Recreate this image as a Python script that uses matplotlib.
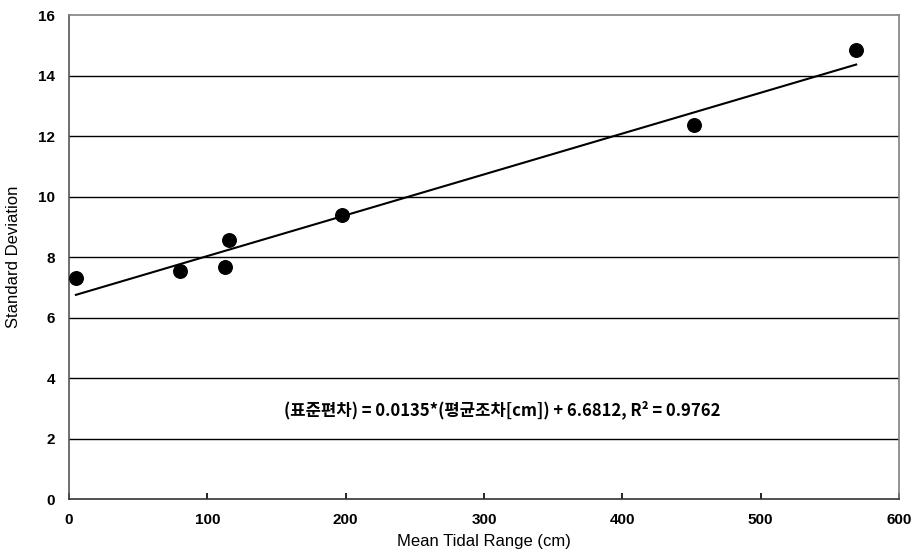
import numpy as np
import matplotlib.pyplot as plt

plt.rcParams['font.family'] = ['Liberation Sans', 'Noto Sans CJK KR', 'DejaVu Sans']

# 평균조차 vs 표준편차
tidal_range = [5, 80, 113, 116, 197, 452, 569]
std_dev = [7.31, 7.54, 7.67, 8.56, 9.39, 12.38, 14.84]

slope = 0.0135
intercept = 6.6812
r2 = 0.9762

fig = plt.figure(figsize=(9.16, 5.56), dpi=100)
ax = fig.add_axes([0.0753, 0.1025, 0.9062, 0.8705])

ax.set_xlim(0, 600)
ax.set_ylim(0, 16)
ax.set_xticks(np.arange(0, 601, 100))
ax.set_yticks(np.arange(0, 17, 2))

for y in np.arange(2, 16, 2):
    ax.axhline(y, color='black', lw=1.0, zorder=1)

xs = np.array([min(tidal_range), max(tidal_range)])
ax.plot(xs, slope * xs + intercept, color='black', lw=1.5, zorder=2)
ax.scatter(tidal_range, std_dev, s=95, color='black', zorder=3)

for side in ['top', 'right']:
    ax.spines[side].set_color('#808080')
ax.spines['left'].set_color('#555555')
ax.spines['bottom'].set_color('#333333')
for sp in ax.spines.values():
    sp.set_linewidth(1.2)

ax.tick_params(axis='x', direction='in', length=4, width=1.2, pad=10, labelsize=11)
ax.tick_params(axis='y', length=0, pad=10, labelsize=11)
for lbl in ax.get_xticklabels() + ax.get_yticklabels():
    lbl.set_fontweight('bold')

ax.set_xlabel('Mean Tidal Range (cm)', fontsize=12, labelpad=5)
ax.set_ylabel('Standard Deviation', fontsize=12, labelpad=12)

ax.text(313, 2.95,
        f'(표준편차) = {slope}*(평균조차[cm]) + {intercept}, R² = {r2}',
        ha='center', va='center', fontsize=12, fontweight='bold',
        family=['Noto Sans CJK KR', 'DejaVu Sans'])

fig.savefig('out.png', dpi=100)
